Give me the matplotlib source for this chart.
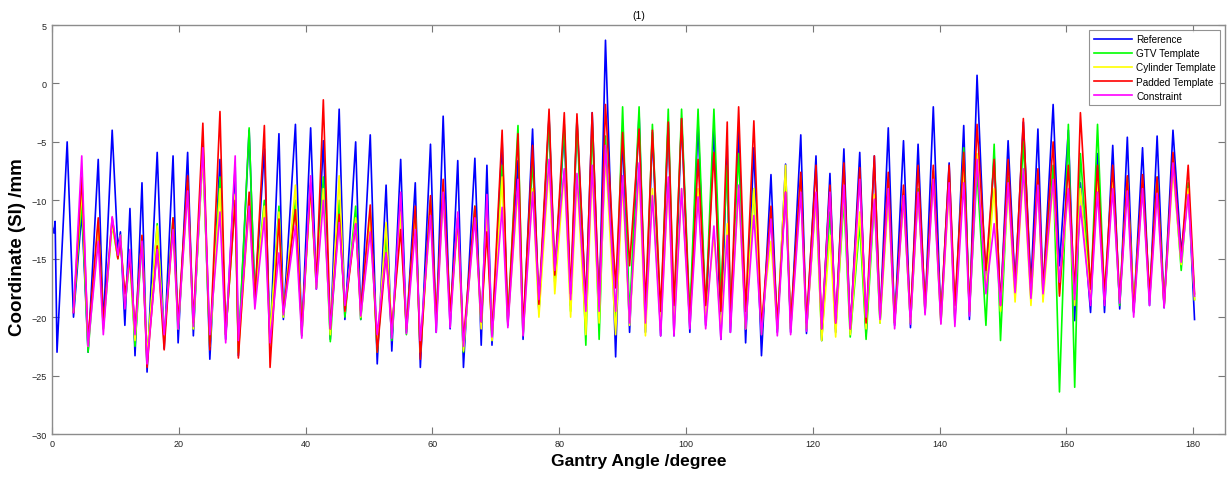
import numpy as np
import matplotlib
matplotlib.use("Agg")
import matplotlib.pyplot as plt

nan = np.nan

# Gantry angles (degree) of the turning points of the breathing traces
angle = [0.0, 0.3, 0.5, 0.8, 2.4, 3.4, 4.7, 5.7, 7.3, 8.1,
         9.5, 10.4, 10.8, 11.5, 12.3, 13.1, 14.2, 15.0, 16.6, 17.7,
         19.1, 19.9, 21.4, 22.3, 23.8, 24.9, 26.5, 27.4, 28.9, 29.4,
         31.1, 32.0, 33.5, 34.4, 35.8, 36.5, 38.4, 39.4, 40.8, 41.7,
         42.8, 43.9, 45.3, 46.2, 47.9, 48.7, 50.2, 51.3, 52.7, 53.6,
         55.0, 55.9, 57.3, 58.1, 59.7, 60.6, 61.7, 62.8, 64.0, 64.9,
         66.7, 67.7, 68.6, 69.4, 71.0, 71.9, 73.5, 74.3, 75.8, 76.8,
         78.4, 79.3, 80.8, 81.8, 82.8, 84.2, 85.2, 86.3, 87.3, 88.9,
         90.0, 91.1, 92.6, 93.6, 94.7, 96.0, 97.2, 98.1, 99.3, 100.6,
         101.9, 103.1, 104.4, 105.5, 106.5, 107.0, 108.3, 109.4, 110.7, 111.9,
         113.4, 114.4, 115.7, 116.5, 118.1, 119.0, 120.5, 121.4, 122.7, 123.6,
         124.9, 125.9, 127.4, 128.4, 129.7, 130.6, 131.9, 132.9, 134.3, 135.4,
         136.6, 137.7, 139.0, 140.2, 141.5, 142.4, 143.8, 144.7, 145.9, 147.3,
         148.6, 149.6, 150.8, 151.9, 153.2, 154.4, 155.5, 156.3, 157.9, 158.9,
         160.3, 161.3, 162.2, 163.8, 164.9, 166.0, 167.3, 168.4, 169.6, 170.6,
         172.0, 173.1, 174.3, 175.4, 176.8, 178.1, 179.2, 180.2]

reference = [-12.2, -12.8, -11.8, -23.0, -5.0, -20.0, -11.0, -23.0, -6.5, -20.7,
             -4.0, -14.2, -12.7, -20.7, -10.7, -23.3, -8.5, -24.7, -5.9, -22.7,
             -6.2, -22.2, -5.9, -21.6, -5.0, -23.6, -6.5, -21.9, -7.1, -23.3,
             -4.0, -18.4, -5.6, -22.2, -4.3, -20.2, -3.5, -21.6, -3.8, -17.6,
             -4.9, -21.9, -2.2, -20.2, -5.0, -20.2, -4.4, -24.0, -8.7, -22.9,
             -6.5, -21.3, -8.5, -24.3, -5.2, -21.3, -2.8, -21.0, -6.6, -24.3,
             -6.4, -22.4, -7.0, -22.4, -4.9, -20.7, -6.6, -21.9, -3.9, -19.6,
             -2.8, -16.4, -4.0, -19.0, -3.0, -19.0, -2.5, -19.6, 3.7, -23.4,
             -4.3, -21.3, -2.6, -21.3, -4.2, -21.6, -3.3, -21.6, -3.0, -21.3,
             -3.3, -20.7, -3.6, -21.9, -5.3, -21.3, -3.9, -22.2, -5.5, -23.3,
             -7.8, -21.3, -6.9, -21.3, -4.4, -21.4, -6.2, -22.0, -7.7, -21.3,
             -5.6, -21.4, -5.9, -21.6, -6.2, -20.4, -3.8, -20.7, -4.9, -20.9,
             -5.2, -19.6, -2.0, -20.3, -6.8, -20.4, -3.6, -20.2, 0.7, -17.6,
             -6.2, -19.2, -4.9, -17.3, -3.3, -17.3, -3.9, -17.9, -1.8, -15.6,
             -4.0, -20.3, -8.5, -19.6, -6.0, -19.6, -5.3, -19.3, -4.6, -19.6,
             -5.5, -19.0, -4.5, -19.2, -4.0, -14.5, -8.8, -20.2]

gtv = [nan, nan, nan, nan, nan, -19.5, -10.0, -23.0, -12.0, -21.0,
       -12.0, -15.0, -13.0, -19.0, -15.0, -22.5, -13.5, -23.5, -12.0, -22.0,
       -11.5, -21.0, -8.5, -21.0, -6.0, -22.5, -8.0, -21.5, -10.0, -23.0,
       -3.8, -18.5, -10.0, -21.5, -10.5, -20.0, -10.0, -21.5, -8.5, -17.5,
       -8.0, -22.1, -10.0, -20.0, -10.5, -20.2, -11.0, -23.0, -13.0, -22.0,
       -10.5, -21.5, -10.9, -23.0, -10.0, -20.5, -9.0, -20.0, -11.5, -23.0,
       -10.5, -20.5, -10.5, -22.0, -7.0, -20.5, -3.6, -21.5, -6.5, -19.5,
       -3.0, -17.0, -3.5, -19.5, -3.0, -22.4, -3.3, -21.9, -4.5, -20.5,
       -2.0, -20.0, -2.0, -20.5, -3.5, -20.5, -2.2, -20.5, -2.2, -20.0,
       -2.2, -19.5, -2.2, -18.0, -7.0, -20.0, -6.0, -21.0, -9.0, -21.5,
       -11.0, -21.0, -9.0, -21.0, -8.0, -21.0, -9.5, -22.0, -11.0, -21.0,
       -10.0, -21.7, -12.0, -21.9, -10.0, -20.5, -9.0, -20.5, -9.5, -20.5,
       -9.0, -19.5, -7.5, -20.5, -8.0, -20.0, -5.5, -19.5, -7.5, -20.7,
       -5.2, -22.0, -8.0, -18.0, -5.0, -18.5, -8.0, -18.0, -7.0, -26.4,
       -3.5, -26.0, -6.0, -18.5, -3.5, -18.5, -8.0, -19.0, -8.0, -19.5,
       -8.5, -18.5, -8.0, -19.0, -6.5, -16.0, -8.5, -18.5]

cylinder = [nan, nan, nan, nan, nan, -19.5, -9.0, -22.5, -12.0, -21.0,
            -12.0, -15.0, -13.0, -18.5, -15.0, -22.0, -13.0, -23.5, -12.2, -22.0,
            -12.5, -21.0, -9.0, -21.0, -6.0, -22.5, -9.0, -21.5, -9.5, -23.0,
            -10.5, -18.5, -10.5, -21.5, -11.0, -20.0, -8.7, -21.5, -9.0, -17.5,
            -9.0, -21.5, -7.9, -19.5, -11.5, -20.0, -11.5, -22.5, -11.9, -21.5,
            -11.0, -21.0, -11.5, -23.0, -11.0, -20.5, -9.5, -20.0, -12.0, -22.9,
            -11.0, -21.0, -11.0, -22.0, -8.0, -20.5, -9.0, -21.5, -9.0, -20.0,
            -7.0, -18.0, -7.5, -20.0, -8.0, -21.5, -7.5, -20.5, -6.0, -21.5,
            -8.5, -20.7, -7.5, -21.6, -9.0, -21.0, -8.5, -21.0, -9.0, -20.5,
            -9.0, -20.0, -13.0, -21.0, -12.0, -20.5, -9.0, -21.0, -9.0, -20.5,
            -13.5, -21.0, -7.0, -21.0, -9.0, -21.0, -10.0, -22.0, -13.0, -21.7,
            -9.0, -21.5, -11.0, -21.0, -9.5, -20.5, -10.0, -20.5, -10.0, -20.5,
            -9.5, -19.5, -8.0, -20.5, -9.0, -20.0, -7.5, -19.5, -6.0, -17.5,
            -9.0, -19.5, -9.0, -18.7, -7.5, -19.0, -8.5, -18.7, -8.5, -18.0,
            -9.0, -19.0, -9.0, -18.5, -8.5, -18.5, -8.5, -18.5, -8.5, -19.0,
            -9.0, -18.5, -9.0, -19.0, -7.5, -15.5, -9.0, -18.5]

padded = [nan, nan, nan, nan, nan, -19.6, -8.0, -22.0, -11.5, -20.5,
          -11.5, -15.0, -13.5, -18.0, -15.0, -21.0, -13.0, -24.3, -13.9, -22.8,
          -11.5, -20.5, -7.9, -20.5, -3.4, -22.8, -2.4, -21.5, -10.0, -23.5,
          -9.3, -18.5, -3.6, -24.3, -11.6, -19.6, -10.8, -21.0, -8.7, -17.0,
          -1.4, -21.0, -11.2, -19.5, -12.0, -19.5, -10.4, -23.0, -14.5, -21.0,
          -12.5, -21.0, -10.5, -23.6, -9.6, -20.3, -8.2, -19.5, -11.5, -22.0,
          -10.5, -20.4, -12.7, -21.5, -4.0, -20.5, -4.3, -21.0, -5.3, -18.9,
          -2.2, -16.4, -2.5, -18.0, -2.6, -19.0, -2.5, -19.0, -1.8, -17.5,
          -4.2, -15.6, -3.9, -19.0, -4.0, -19.5, -3.3, -19.0, -3.0, -20.5,
          -6.5, -19.0, -5.9, -19.5, -3.3, -20.5, -2.0, -19.5, -3.2, -21.0,
          -10.5, -20.5, -9.3, -20.5, -7.6, -20.5, -7.0, -21.0, -8.7, -20.5,
          -6.8, -21.0, -7.2, -20.5, -6.2, -20.0, -7.6, -20.5, -8.7, -20.0,
          -7.0, -19.0, -7.0, -20.0, -7.0, -19.0, -5.9, -19.5, -3.5, -16.0,
          -6.5, -19.0, -6.5, -17.5, -3.0, -18.0, -7.3, -17.5, -5.0, -18.2,
          -7.0, -18.0, -2.5, -17.6, -7.0, -18.0, -7.0, -18.5, -7.9, -19.5,
          -7.8, -18.0, -8.0, -19.0, -5.9, -15.0, -7.0, -18.0]

constraint = [nan, nan, nan, nan, nan, -19.6, -6.2, -22.5, -13.5, -21.5,
              -11.4, -14.7, -13.0, -19.3, -14.2, -21.5, -13.5, -24.0, -14.2, -21.5,
              -12.5, -21.0, -9.2, -20.8, -5.5, -21.5, -11.0, -22.2, -6.2, -22.0,
              -10.5, -19.3, -11.5, -22.2, -14.5, -19.8, -12.2, -21.8, -7.9, -17.6,
              -10.0, -21.0, -11.9, -19.0, -12.0, -19.9, -12.7, -21.5, -14.5, -21.8,
              -9.3, -21.4, -12.5, -22.0, -11.3, -21.3, -9.3, -20.9, -11.0, -22.5,
              -11.5, -20.4, -9.5, -21.7, -10.6, -20.9, -8.2, -21.6, -9.3, -18.5,
              -6.5, -16.0, -7.3, -18.5, -7.7, -19.5, -7.0, -19.5, -5.3, -19.5,
              -7.9, -20.5, -6.8, -20.5, -9.6, -21.6, -8.0, -21.6, -9.0, -21.0,
              -9.7, -21.0, -12.2, -21.9, -13.0, -21.3, -8.7, -21.0, -11.3, -21.5,
              -11.6, -21.6, -9.3, -21.5, -9.3, -21.2, -9.3, -21.0, -9.3, -20.5,
              -8.7, -21.0, -8.2, -20.0, -9.9, -20.2, -9.0, -21.0, -9.6, -20.6,
              -9.3, -19.8, -8.2, -20.6, -8.5, -20.8, -8.5, -19.9, -6.5, -18.0,
              -12.0, -19.0, -8.5, -17.9, -7.3, -18.4, -8.7, -18.0, -8.2, -17.0,
              -9.0, -18.5, -10.5, -19.0, -9.3, -19.0, -9.0, -18.8, -9.2, -20.0,
              -9.0, -19.0, -9.4, -19.2, -6.8, -15.3, -9.5, -18.2]

series_names = ["Reference", "GTV Template", "Cylinder Template",
                "Padded Template", "Constraint"]
series_colors = ["#0000ff", "#00ff00", "#ffff00", "#ff0000", "#ff00ff"]

plt.rcParams['font.family'] = ['Liberation Sans', 'DejaVu Sans']

fig = plt.figure(figsize=(12.31, 4.81), dpi=100)
ax = fig.add_axes([0.0422, 0.0956, 0.9529, 0.8503])

for vals, name, col in zip([reference, gtv, cylinder, padded, constraint],
                           series_names, series_colors):
    ax.plot(angle, vals, color=col, lw=1.2, label=name)

ax.set_xlim(0, 185)
ax.set_ylim(-30, 5)
ax.set_xticks(np.arange(0, 181, 20))
ax.set_yticks(np.arange(-30, 6, 5))
ax.tick_params(direction='in', top=True, right=True, length=5, width=0.8,
               labelsize=6.5, colors='#777777', labelcolor='#222222')
for s in ax.spines.values():
    s.set_color('#8c8c8c')
    s.set_linewidth(1.0)

ax.set_title("(1)", fontsize=7.5, pad=5)
ax.set_xlabel("Gantry Angle /degree", fontsize=12.5, fontweight='bold', labelpad=4)
ax.set_ylabel("Coordinate (SI) /mm", fontsize=13.5, fontweight='bold')
ax.yaxis.set_label_coords(-0.0225, 0.46)

leg = ax.legend(loc='upper right', fontsize=7.2, frameon=True, fancybox=False,
                borderpad=0.45, handlelength=3.8, handletextpad=0.45,
                labelspacing=0.42, borderaxespad=0.45)
leg.get_frame().set_edgecolor('#777777')
leg.get_frame().set_linewidth(0.8)

fig.savefig("out.png", dpi=100)
